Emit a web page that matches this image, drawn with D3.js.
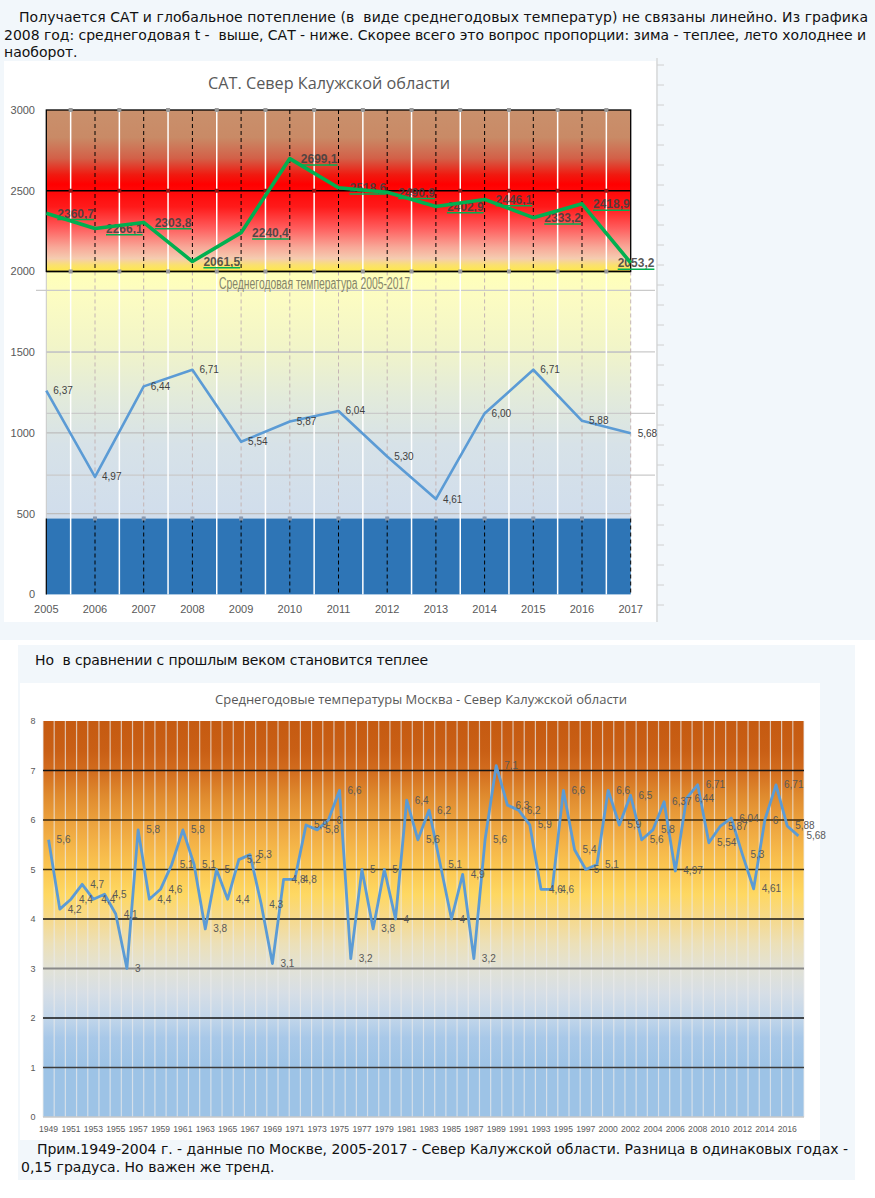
<!DOCTYPE html>
<html><head><meta charset="utf-8">
<script src="https://cdn.jsdelivr.net/npm/d3@7"></script>
<style>body{margin:0;background:#fff}svg{display:block}text{white-space:pre}</style>
</head><body><svg id="c" width="875" height="1198"></svg>
<script>
// ---------- DATA ----------
const catYears = [2005,2006,2007,2008,2009,2010,2011,2012,2013,2014,2015,2016,2017];
const catValues = [2360.7,2266.1,2303.8,2061.5,2240.4,2699.1,2518.6,2490.9,2402.9,2446.1,2333.2,2418.9,2053.2];
const tempRecent = [6.37,4.97,6.44,6.71,5.54,5.87,6.04,5.30,4.61,6.00,6.71,5.88,5.68];
const catTicks = [0,500,1000,1500,2000,2500,3000];
const tempGrid = [5,6,7,8];

const histYears = [1949,1950,1951,1952,1953,1954,1955,1956,1957,1958,1959,1960,1961,1962,1963,1964,1965,1966,1967,1968,1969,1970,1971,1972,1973,1974,1975,1976,1977,1978,1979,1980,1981,1982,1983,1984,1985,1986,1987,1988,1989,1990,1991,1992,1993,1994,1995,1996,1997,1999,2000,2001,2002,2003,2004,2005,2006,2007,2008,2009,2010,2011,2012,2013,2014,2015,2016,2017];
const histTemps = [5.6,4.2,4.4,4.7,4.4,4.5,4.1,3.0,5.8,4.4,4.6,5.1,5.8,5.1,3.8,5.0,4.4,5.2,5.3,4.3,3.1,4.8,4.8,5.9,5.8,6.0,6.6,3.2,5.0,3.8,5.0,4.0,6.4,5.6,6.2,5.1,4.0,4.9,3.2,5.6,7.1,6.3,6.2,5.9,4.6,4.6,6.6,5.4,5.0,5.1,6.6,5.9,6.5,5.6,5.8,6.37,4.97,6.44,6.71,5.54,5.87,6.04,5.30,4.61,6.00,6.71,5.88,5.68];
const histTicks = [0,1,2,3,4,5,6,7,8];

const introLines = [
  "Получается САТ и глобальное потепление (в  виде среднегодовых температур) не связаны линейно. Из графика",
  "2008 год: среднегодовая t -  выше, САТ - ниже. Скорее всего это вопрос пропорции: зима - теплее, лето холоднее и",
  "наоборот."
];
const midText = "Но  в сравнении с прошлым веком становится теплее";
const noteLines = [
  "Прим.1949-2004 г. - данные по Москве, 2005-2017 - Север Калужской области. Разница в одинаковых годах -",
  "0,15 градуса. Но важен же тренд."
];

// ---------- SETUP ----------
const svg = d3.select('#c');
const defs = svg.append('defs');
function grad(id, stops){
  const g = defs.append('linearGradient').attr('id',id).attr('x1',0).attr('y1',0).attr('x2',0).attr('y2',1);
  stops.forEach(([o,c]) => g.append('stop').attr('offset',o).attr('stop-color',c));
}
grad('hot', [[0,'#c9906c'],[0.17,'#c98a66'],[0.3,'#d36048'],[0.4,'#f01a10'],[0.46,'#ff0000'],[0.6,'#ff1a1a'],[0.73,'#ff5c5c'],[0.85,'#f8a898'],[0.92,'#f5ccb0'],[0.96,'#fae070'],[1,'#ffe94a']]);
grad('cool', [[0,'#ffffb8'],[0.1,'#fcfcc2'],[0.3,'#f2f5c8'],[0.5,'#e3ebda'],[0.7,'#d7e2e8'],[1,'#d0ddec']]);
grad('warm', [[0,'#c55a11'],[0.075,'#c95f15'],[0.125,'#d26c1e'],[0.1875,'#df8a2e'],[0.25,'#eba03c'],[0.3125,'#f4b448'],[0.375,'#fbc752'],[0.4375,'#fed862'],[0.5,'#f6d98c'],[0.5625,'#ece0b8'],[0.625,'#e2e2d6'],[0.6875,'#d6dee6'],[0.75,'#c2d6ea'],[0.8,'#a8c8e8'],[0.875,'#9dc3e6'],[1,'#9dc3e6']]);
grad('pink', [[0,'#ffffff'],[0.5,'#f6b8b8'],[1,'#f08080']]);

svg.append('rect').attr('x',0).attr('y',0).attr('width',875).attr('height',640).attr('fill','#f2f7fb');
svg.append('rect').attr('x',18).attr('y',645).attr('width',837).attr('height',535).attr('fill','#f2f7fb');

const sans = "'DejaVu Sans', Verdana, sans-serif";
svg.append('text').attr('x',19).attr('y',22).attr('font-family',sans).attr('font-size',14).attr('fill','#111')
  .attr('textLength',849).attr('lengthAdjust','spacing').text(introLines[0]);
svg.append('text').attr('x',4).attr('y',40).attr('font-family',sans).attr('font-size',14).attr('fill','#111')
  .attr('textLength',862).attr('lengthAdjust','spacing').text(introLines[1]);
svg.append('text').attr('x',4).attr('y',57).attr('font-family',sans).attr('font-size',14).attr('fill','#111').text(introLines[2]);

// ---------- TOP CHART ----------
svg.append('rect').attr('x',4).attr('y',61).attr('width',652).attr('height',561).attr('fill','#fff');
svg.append('line').attr('x1',657).attr('x2',657).attr('y1',58).attr('y2',622).attr('stroke','#d0d0d0').attr('stroke-width',1.2);
svg.selectAll('.rt').data(d3.range(65,620,20)).enter().append('line')
  .attr('x1',657).attr('x2',664).attr('y1',d=>d).attr('y2',d=>d).attr('stroke','#d0d0d0');

const x = d3.scaleLinear().domain([2005,2017]).range([46.3,630.7]);
const y = d3.scaleLinear().domain([0,3000]).range([594.4,110]);
const yT = d3.scaleLinear().domain([4,8]).range([536.6,290.3]);
const X0 = x(2005), X1 = x(2017);
const coldLevel = 470;

const gTop = svg.append('g');
gTop.append('rect').attr('x',X0).attr('y',y(3000)).attr('width',X1-X0).attr('height',y(2000)-y(3000)).attr('fill','url(#hot)');
gTop.append('rect').attr('x',X0).attr('y',y(2000)).attr('width',X1-X0).attr('height',y(coldLevel)-y(2000)).attr('fill','url(#cool)');
gTop.append('rect').attr('x',X0).attr('y',y(coldLevel)).attr('width',X1-X0).attr('height',y(0)-y(coldLevel)).attr('fill','#2e75b6');

gTop.selectAll('.hg').data([500,1000,1500]).enter().append('line')
  .attr('x1',X0).attr('x2',X1).attr('y1',d=>y(d)).attr('y2',d=>y(d)).attr('stroke','#bdbdbd').attr('stroke-width',1.2);
gTop.selectAll('.tg').data(tempGrid).enter().append('line')
  .attr('x1',d=>d===8?36:X0).attr('x2',655).attr('y1',d=>yT(d)).attr('y2',d=>yT(d)).attr('stroke','#cacaca').attr('stroke-width',1.2);

const mids = catYears.slice(0,-1).map(d=>d+0.5);
gTop.selectAll('.mid').data(mids).enter().append('line')
  .attr('x1',d=>x(d)).attr('x2',d=>x(d)).attr('y1',y(3000)).attr('y2',y(0)).attr('stroke','#fff').attr('stroke-width',1.5);
const inner = catYears.slice(1,-1);
gTop.selectAll('.d1').data(inner).enter().append('line')
  .attr('x1',d=>x(d)).attr('x2',d=>x(d)).attr('y1',y(3000)).attr('y2',y(2000)).attr('stroke','#000').attr('stroke-width',1).attr('stroke-dasharray','4,3');
gTop.selectAll('.d2').data(catYears.slice(1)).enter().append('line')
  .attr('x1',d=>x(d)).attr('x2',d=>x(d)).attr('y1',y(2000)).attr('y2',y(coldLevel)).attr('stroke','#c4b4b4').attr('stroke-width',1).attr('stroke-dasharray','4,3');
gTop.selectAll('.d3').data(catYears.slice(1)).enter().append('line')
  .attr('x1',d=>x(d)).attr('x2',d=>x(d)).attr('y1',y(coldLevel)).attr('y2',y(0)).attr('stroke','#000').attr('stroke-width',1).attr('stroke-dasharray','4,3');
gTop.append('line').attr('x1',X0).attr('x2',X0).attr('y1',y(2000)).attr('y2',y(coldLevel)).attr('stroke','#c8c8c8');
gTop.append('line').attr('x1',X0).attr('x2',X0).attr('y1',y(coldLevel)).attr('y2',y(0)).attr('stroke','#000').attr('stroke-width',1.2);

gTop.selectAll('.bl').data([2500,2000]).enter().append('line')
  .attr('x1',X0).attr('x2',X1).attr('y1',d=>y(d)).attr('y2',d=>y(d)).attr('stroke','#000').attr('stroke-width',1.4);
gTop.append('rect').attr('x',X0).attr('y',y(3000)).attr('width',X1-X0).attr('height',y(2000)-y(3000))
  .attr('fill','none').attr('stroke','#000').attr('stroke-width',1.3);

[[3000,'#9a9a9a'],[2500,'#a01010'],[2000,'#9a9a9a']].forEach(([lv,c])=>{
  gTop.selectAll(null).data(mids).enter().append('rect')
    .attr('x',d=>x(d)-2).attr('y',y(lv)-2).attr('width',4).attr('height',4).attr('fill',c);
});
gTop.selectAll(null).data(catYears.slice(1,-1)).enter().append('rect')
  .attr('x',d=>x(d)-2).attr('y',y(coldLevel)-2).attr('width',4).attr('height',4).attr('fill','#8a9ab0');

const axisFont = "'Liberation Sans', Arial, sans-serif";
gTop.selectAll('.yl').data(catTicks).enter().append('text')
  .attr('x',35).attr('y',d=>y(d)+4).attr('text-anchor','end').attr('font-family',axisFont).attr('font-size',11).attr('fill','#595959').text(d=>d);
gTop.selectAll('.xl').data(catYears).enter().append('text')
  .attr('x',d=>x(d)).attr('y',613).attr('text-anchor','middle').attr('font-family',axisFont).attr('font-size',11).attr('fill','#595959').text(d=>d);

gTop.append('text').attr('x',329).attr('y',89).attr('text-anchor','middle').attr('font-family',"'Open Sans', sans-serif")
  .attr('font-size',17).attr('fill','#595959').attr('textLength',242).attr('lengthAdjust','spacingAndGlyphs').text('САТ. Север Калужской области');
gTop.append('text').attr('x',219).attr('y',289).attr('font-family',"'Liberation Sans Narrow','Liberation Sans',sans-serif")
  .attr('font-size',16).attr('fill','#85856a').attr('textLength',191).attr('lengthAdjust','spacingAndGlyphs').text('Среднегодовая температура 2005-2017');

const tl = d3.line().x((d,i)=>x(catYears[i])).y(d=>yT(d));
gTop.append('path').datum(tempRecent).attr('d',tl).attr('fill','none').attr('stroke','#5b9bd5').attr('stroke-width',2.6).attr('stroke-linejoin','round');
const f2 = d3.format('.2f');
gTop.selectAll('.tlab').data(tempRecent).enter().append('text')
  .attr('x',(d,i)=>x(catYears[i])+7).attr('y',d=>yT(d)+3.5)
  .attr('font-family',"'Liberation Sans Narrow','Liberation Sans',sans-serif").attr('font-size',10)
  .attr('fill','#404040').text(d=>f2(d).replace('.',','));

const f1 = d3.format('.1f');
const labG = gTop.append('g');
catValues.forEach((v,i)=>{
  const last = i===catValues.length-1;
  const lx = x(catYears[i]) + (last ? -13 : 11);
  const ly = y(v) + 4.5;
  const t = labG.append('text').attr('x',lx).attr('y',ly).attr('font-family',axisFont).attr('font-weight','bold')
    .attr('font-size',12).attr('fill','#404040').attr('fill-opacity',0.88).text(f1(v).replace('.',','));
  const w = t.node().getComputedTextLength();
  labG.append('line').attr('x1',lx).attr('x2',lx+w).attr('y1',ly+1.8).attr('y2',ly+1.8).attr('stroke','#00b050').attr('stroke-width',1.5);
});
const gl = d3.line().x((d,i)=>x(catYears[i])).y(d=>y(d));
gTop.append('path').datum(catValues).attr('d',gl).attr('fill','none').attr('stroke','#00b050').attr('stroke-width',3.6).attr('stroke-linejoin','round');

// ---------- BOTTOM CHART ----------
svg.append('text').attr('x',35).attr('y',665).attr('font-family',sans).attr('font-size',14).attr('fill','#111')
  .attr('textLength',393).attr('lengthAdjust','spacing').text(midText);
svg.append('rect').attr('x',20).attr('y',683).attr('width',800).attr('height',457).attr('fill','#fff');
svg.append('line').attr('x1',22).attr('x2',22).attr('y1',1020).attr('y2',1140).attr('stroke','url(#pink)').attr('stroke-width',1.5);
svg.append('line').attr('x1',819).attr('x2',819).attr('y1',1020).attr('y2',1140).attr('stroke','url(#pink)').attr('stroke-width',1.5);

const xB = d3.scaleBand().domain(histYears).range([43,804]);
const yB = d3.scaleLinear().domain([0,8]).range([1117,721]);
const bw = xB.bandwidth();
const gBot = svg.append('g');
gBot.append('text').attr('x',421).attr('y',704).attr('text-anchor','middle').attr('font-family',"'Open Sans', sans-serif")
  .attr('font-size',13).attr('fill','#595959').attr('textLength',412).attr('lengthAdjust','spacingAndGlyphs')
  .text('Среднегодовые температуры Москва - Север Калужской области');
gBot.append('rect').attr('x',xB.range()[0]).attr('y',yB(8)).attr('width',xB.range()[1]-xB.range()[0]).attr('height',yB(0)-yB(8)).attr('fill','url(#warm)');
gBot.selectAll('.vb').data(histYears.concat(['end'])).enter().append('line')
  .attr('x1',d=>d==='end'?xB.range()[1]:xB(d)).attr('x2',d=>d==='end'?xB.range()[1]:xB(d))
  .attr('y1',yB(8)).attr('y2',yB(0)).attr('stroke','rgba(235,235,235,0.7)').attr('stroke-width',1.2);
const hColors = {1:'#3c3c3c',2:'#151515',3:'#8a8a8a',4:'#151515',5:'#3a2e12',6:'#3a2a12',7:'#151515'};
gBot.selectAll('.hb').data(histTicks.filter(d=>d>0&&d<8)).enter().append('line')
  .attr('x1',xB.range()[0]).attr('x2',xB.range()[1]).attr('y1',d=>yB(d)).attr('y2',d=>yB(d))
  .attr('stroke',d=>hColors[d]).attr('stroke-width',d=>d===3?2:1.3);
gBot.append('line').attr('x1',xB.range()[0]).attr('x2',xB.range()[1]).attr('y1',yB(0)).attr('y2',yB(0)).attr('stroke','#c8c8c8').attr('stroke-width',1.5);
gBot.selectAll('.yb').data(histTicks).enter().append('text')
  .attr('x',33).attr('y',d=>yB(d)+3).attr('text-anchor','middle').attr('font-family',axisFont).attr('font-size',9).attr('fill','#595959').text(d=>d);
gBot.selectAll('.xb').data(histYears.filter((d,i)=>i%2===0)).enter().append('text')
  .attr('x',d=>xB(d)+bw/2).attr('y',1132).attr('text-anchor','middle').attr('font-family',axisFont).attr('font-size',8.6).attr('fill','#595959').text(d=>d);
const hl = d3.line().x((d,i)=>xB(histYears[i])+bw/2).y(d=>yB(d));
gBot.append('path').datum(histTemps).attr('d',hl).attr('fill','none').attr('stroke','#5b9bd5').attr('stroke-width',2.8).attr('stroke-linejoin','round');
gBot.selectAll('.hlab').data(histTemps).enter().append('text')
  .attr('x',(d,i)=>xB(histYears[i])+bw/2+8).attr('y',d=>yB(d)+3.5)
  .attr('font-family',axisFont).attr('font-size',10).attr('fill','#595959').text(d=>String(d).replace('.',','));

svg.append('text').attr('x',37).attr('y',1154).attr('font-family',sans).attr('font-size',14).attr('fill','#111')
  .attr('textLength',811).attr('lengthAdjust','spacing').text(noteLines[0]);
svg.append('text').attr('x',21).attr('y',1172).attr('font-family',sans).attr('font-size',14).attr('fill','#111').text(noteLines[1]);
</script></body></html>
